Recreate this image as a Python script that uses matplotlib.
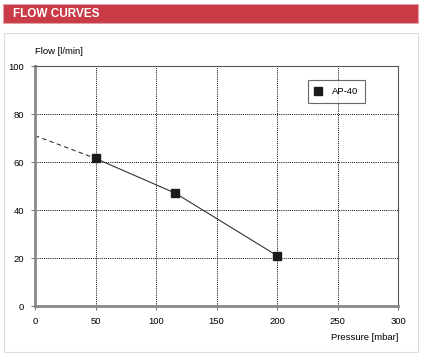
import matplotlib
matplotlib.use("Agg")
import matplotlib.pyplot as plt
from matplotlib.patches import Rectangle

# data
pressure = [50, 116, 200]
flow = [61.5, 47, 21]
extrap_pressure = [0, 50]
extrap_flow = [71, 61.5]
series_name = "AP-40"

W, H = 421, 355
fig = plt.figure(figsize=(W / 100, H / 100), dpi=100)
plt.rcParams['font.family'] = ['Liberation Sans', 'DejaVu Sans']

# red header bar
fig.patches.append(Rectangle((3 / W, 1 - 23 / H), 415 / W, 19 / H, transform=fig.transFigure,
                             facecolor='#c83b47', edgecolor='#e3a0a6', lw=0.8))
fig.text(13 / W, 1 - 14 / H, "FLOW CURVES", color='white', fontsize=8.5,
         fontweight='bold', va='center', ha='left')
# light panel frame
fig.patches.append(Rectangle((3.5 / W, 3 / H), 414 / W, (352 - 33) / H, transform=fig.transFigure,
                             facecolor='none', edgecolor='#dddddd', lw=0.8))

ax = fig.add_axes([35 / W, 49 / H, 363 / W, 240 / H])
ax.plot(extrap_pressure, extrap_flow, color='#333333', lw=0.8, ls=(0, (4, 3)))
ax.plot(pressure, flow, color='#333333', lw=0.8, marker='s', ms=5.5,
        mfc='#1a1a1a', mec='#1a1a1a', label=series_name)

ax.set_xlim(0, 300)
ax.set_ylim(0, 100)
ax.set_xticks(range(0, 301, 50))
ax.set_yticks(range(0, 101, 20))
ax.grid(True, color='black', ls=(0, (1, 1.2)), lw=0.7)
ax.tick_params(labelsize=6.8, length=3, width=0.8, color='#777777', pad=5)

for s in ['left', 'bottom']:
    ax.spines[s].set_color('#888888')
    ax.spines[s].set_linewidth(2)
for s in ['top', 'right']:
    ax.spines[s].set_color('#555555')
    ax.spines[s].set_linewidth(0.8)

fig.text(35 / W, 1 - 51 / H, "Flow [l/min]", fontsize=6.8, ha='left', va='center')
fig.text(398 / W, 1 - 337 / H, "Pressure [mbar]", fontsize=6.8, ha='right', va='center')

leg = ax.legend(handles=[ax.lines[1]], loc='upper right', bbox_to_anchor=(0.909, 0.942),
                borderaxespad=0, fontsize=6.8, frameon=True, fancybox=False,
                handlelength=0.8, handletextpad=1.0, borderpad=0.75, markerscale=0.95)
leg.get_frame().set_edgecolor('#444444')
leg.get_frame().set_linewidth(0.8)
leg.legend_handles[0].set_linestyle('none')

fig.savefig("out.png", dpi=100)
